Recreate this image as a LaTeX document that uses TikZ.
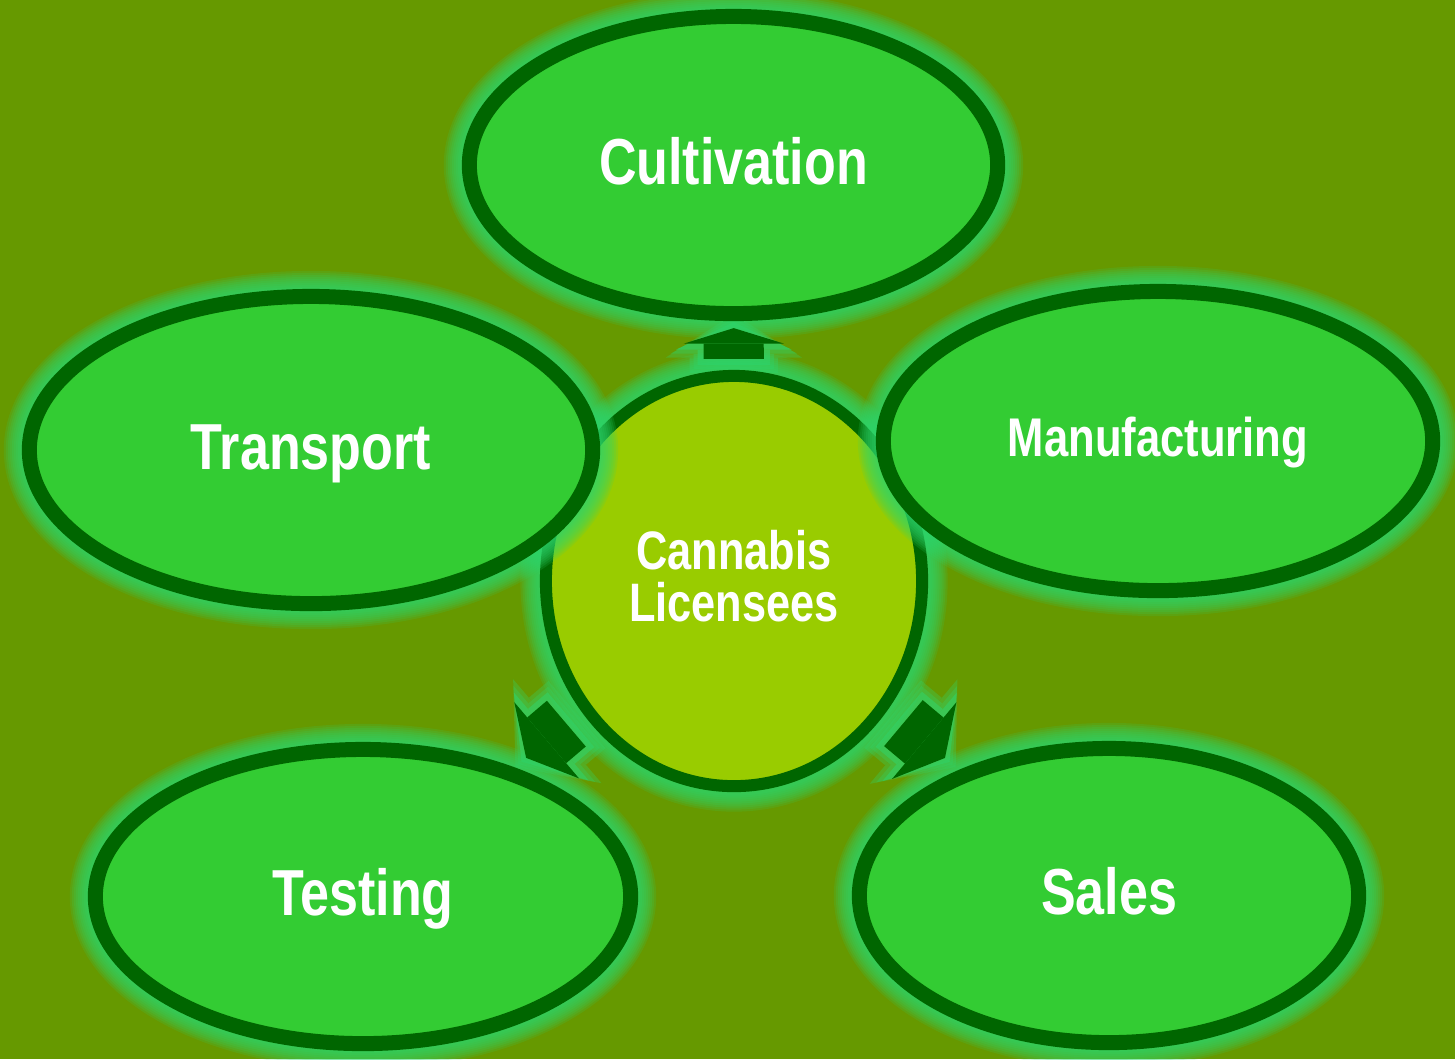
\documentclass[tikz,border=0pt]{standalone}
\usepackage{fontspec}
\setmainfont{Liberation Sans}[FakeStretch=0.8]
\usepackage{tikz}
\usetikzlibrary{shapes,arrows.meta,positioning}

\definecolor{bgolive}{HTML}{669900}
\definecolor{leafgreen}{HTML}{33CC33}
\definecolor{darkgreen}{HTML}{006600}
\definecolor{limegreen}{HTML}{99CC00}
\definecolor{glowgreen}{RGB}{45,215,110}

\pgfdeclarelayer{back}
\pgfsetlayers{back,main}

\begin{document}
\begin{tikzpicture}[
    x=0.01cm, y=-0.01cm,
    glowring/.style={preaction={draw=glowgreen, opacity=0.16, line width=#1}},
    glow/.style={glowring=0.51cm, glowring=0.47cm, glowring=0.43cm, glowring=0.39cm,
        glowring=0.35cm, glowring=0.31cm, glowring=0.27cm, glowring=0.23cm, glowring=0.19cm},
    sector/.style={ellipse, glow, draw=darkgreen, line width=0.15cm, fill=leafgreen,
        text=white, inner sep=0pt, font=\fontsize{18.5}{20}\selectfont\bfseries,
        text height=10.8pt, text depth=0pt},
    hub/.style={ellipse, glow, draw=darkgreen, line width=0.12cm, fill=limegreen,
        text=white, inner sep=0pt, align=center, text depth=2.8pt,
        font=\fontsize{15.4}{14.8}\selectfont\bfseries},
    bigarrow/.style={darkgreen, line width=0.6cm,
        -{Triangle[width=1cm, length=#1, line width=0pt]}}
]
    \begin{pgfonlayer}{back}
        \fill[bgolive] (0,0) rectangle (1455,1059);
    \end{pgfonlayer}
    \useasboundingbox (0,0) rectangle (1455,1059);

    \node[hub, minimum width=3.76cm, minimum height=4.10cm] (lic) at (734,581) {Cannabis\\Licensees};

    \node[sector, minimum width=5.28cm, minimum height=2.97cm] (cult) at (733.5,165) {Cultivation};
    \node[sector, minimum width=5.63cm, minimum height=3.07cm] (trans) at (311,450) {Transport};
    \node[sector, minimum width=5.49cm, minimum height=2.99cm,
        font=\fontsize{15.5}{17}\selectfont\bfseries, text height=8.7pt] (manu) at (1158,441) {Manufacturing};
    \node[sector, minimum width=5.35cm, minimum height=2.94cm] (test) at (363,896.5) {Testing};
    \node[sector, minimum width=4.99cm, minimum height=2.94cm] (sales) at (1109,895.5) {Sales};

    % halo behind the block arrows
    \begin{pgfonlayer}{back}
        \foreach \dest/\tail/\head/\hl in {cult/2.22/1.63/0.155, test/2.20/2.14/0.27, sales/2.21/2.14/0.27}
            \foreach \g/\mix in {0.14/30, 0.1/50, 0.06/75} {
                \pgfmathsetmacro\gt{\tail-\g}
                \pgfmathsetmacro\gh{\head-\g}
                \pgfmathsetmacro\gl{\hl+2*\g}
                \pgfmathsetmacro\gw{1+2.6*\g}
                \pgfmathsetmacro\glw{0.6+2*\g}
                \draw[glowgreen!\mix!bgolive, line width=\glw cm, shorten <=\gt cm, shorten >=\gh cm,
                    -{Triangle[width=\gw cm, length=\gl cm, line width=0pt]}] (lic.center) -- (\dest.center);
            }
    \end{pgfonlayer}

    \foreach \dest/\tail/\head/\hl in {cult/2.22/1.63/0.155, test/2.20/2.14/0.27, sales/2.21/2.14/0.27}
        \draw[bigarrow=\hl cm, shorten <=\tail cm, shorten >=\head cm] (lic.center) -- (\dest.center);
\end{tikzpicture}
\end{document}
